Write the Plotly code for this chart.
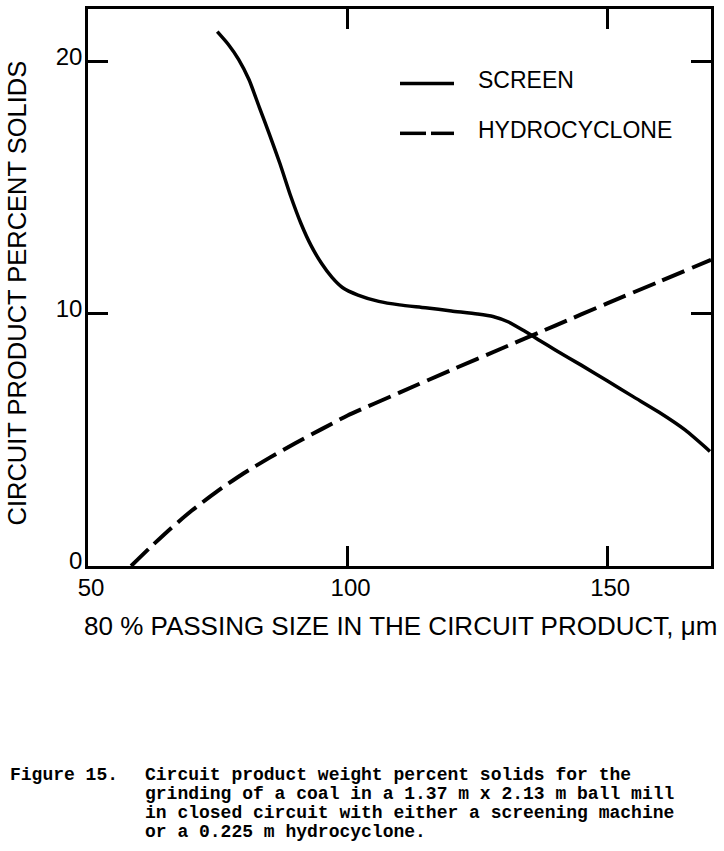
import plotly.graph_objects as go

# ---- data ----
screen_x = [74.9, 77, 79, 81, 83, 85, 87, 89, 91, 93, 95, 97, 99, 102, 106, 110, 115,
            120, 125, 128, 131, 134, 137, 140, 145, 150, 155, 160, 165, 169.8]
screen_y = [21.2, 20.7, 20.1, 19.3, 18.2, 17.1, 15.95, 14.7, 13.6, 12.7, 12.0, 11.45, 11.05,
            10.75, 10.5, 10.36, 10.25, 10.12, 10.0, 9.9, 9.68, 9.33, 8.95, 8.57, 7.97, 7.35,
            6.72, 6.1, 5.4, 4.55]

hydro_x = [58.3, 62, 66, 70, 75, 80, 85, 90, 95, 100, 110, 120, 130, 140, 150, 160, 170]
hydro_y = [0.0, 0.74, 1.50, 2.20, 2.98, 3.68, 4.30, 4.88, 5.43, 5.97, 6.88, 7.78, 8.66,
           9.54, 10.42, 11.28, 12.15]

x_ticks = [50, 100, 150]
y_ticks = [0, 10, 20]
x_range = [50, 170]
y_range = [0, 22.1]

series_names = ["SCREEN", "HYDROCYCLONE"]
x_title = "80 % PASSING SIZE IN THE CIRCUIT PRODUCT, \u03bcm"
y_title = "CIRCUIT PRODUCT PERCENT SOLIDS"
caption_label = "Figure 15."
caption_lines = [
    "Circuit product weight percent solids for the",
    "grinding of a coal in a 1.37 m x 2.13 m ball mill",
    "in closed circuit with either a screening machine",
    "or a 0.225 m hydrocyclone.",
]

# ---- layout constants (pixels) ----
W, H = 724, 851
ML, MR, MT, MB = 88, 13, 6, 285
PW, PH = W - ML - MR, H - MT - MB


def px_x(px):
    return (px - ML) / PW


def px_y(py):
    return (H - MB - py) / PH


SANS = "Liberation Sans, Arial, sans-serif"
MONO = "Liberation Mono, Courier New, monospace"

fig = go.Figure()
fig.add_trace(go.Scatter(x=screen_x, y=screen_y, mode="lines", name=series_names[0],
                         line=dict(color="black", width=3.5, shape="spline", smoothing=0.6),
                         showlegend=False))
fig.add_trace(go.Scatter(x=hydro_x, y=hydro_y, mode="lines", name=series_names[1],
                         line=dict(color="black", width=4, shape="spline", smoothing=0.6,
                                   dash="24px,8px"),
                         showlegend=False))

axis_common = dict(showline=True, linecolor="black", linewidth=2.5, mirror="ticks",
                   ticks="inside", ticklen=20, tickwidth=2.5, tickcolor="black",
                   showgrid=False, zeroline=False,
                   tickfont=dict(family=SANS, size=24, color="black"))

fig.update_xaxes(range=x_range, tickvals=x_ticks, ticktext=[str(v) for v in x_ticks],
                 ticklabelstandoff=-2, ticklabelshift=3, **axis_common)
fig.update_yaxes(range=y_range, tickvals=y_ticks, ticktext=[str(v) for v in y_ticks],
                 ticklabelstandoff=-2, ticklabelshift=-5, **axis_common)

annotations = [
    dict(text=x_title, x=px_x(400), y=px_y(626), xref="paper", yref="paper",
         xanchor="center", yanchor="middle", showarrow=False,
         font=dict(family=SANS, size=26, color="black")),
    dict(text=y_title, x=px_x(17), y=px_y(292), xref="paper", yref="paper",
         xanchor="center", yanchor="middle", showarrow=False, textangle=-90,
         font=dict(family=SANS, size=25.5, color="black")),
    dict(text=series_names[0], x=px_x(476), y=px_y(77), xref="paper", yref="paper",
         xanchor="left", yanchor="middle", showarrow=False,
         font=dict(family=SANS, size=23, color="black")),
    dict(text=series_names[1], x=px_x(476), y=px_y(128), xref="paper", yref="paper",
         xanchor="left", yanchor="middle", showarrow=False,
         font=dict(family=SANS, size=23, color="black")),
]
cap_y = [776, 795, 814, 833]
annotations.append(dict(text=caption_label, x=px_x(8), y=px_y(cap_y[0]), xref="paper",
                        yref="paper", xanchor="left", yanchor="middle", showarrow=False,
                        font=dict(family=MONO, size=18, color="black", weight="bold")))
for line, cy in zip(caption_lines, cap_y):
    annotations.append(dict(text=line, x=px_x(143), y=px_y(cy), xref="paper", yref="paper",
                            xanchor="left", yanchor="middle", showarrow=False,
                            font=dict(family=MONO, size=18, color="black", weight="bold")))

shapes = [
    dict(type="line", xref="paper", yref="paper", x0=px_x(400), x1=px_x(454),
         y0=px_y(81), y1=px_y(81), line=dict(color="black", width=3.5)),
    dict(type="line", xref="paper", yref="paper", x0=px_x(400), x1=px_x(426),
         y0=px_y(131), y1=px_y(131), line=dict(color="black", width=3.5)),
    dict(type="line", xref="paper", yref="paper", x0=px_x(431), x1=px_x(454),
         y0=px_y(131), y1=px_y(131), line=dict(color="black", width=3.5)),
]

fig.update_layout(width=W, height=H, margin=dict(l=ML, r=MR, t=MT, b=MB, pad=0),
                  paper_bgcolor="white", plot_bgcolor="white",
                  annotations=annotations, shapes=shapes, showlegend=False)

fig.write_html("out.html", config={"displayModeBar": False},
               post_script="document.body.style.margin='0';document.body.style.overflow='hidden';")
